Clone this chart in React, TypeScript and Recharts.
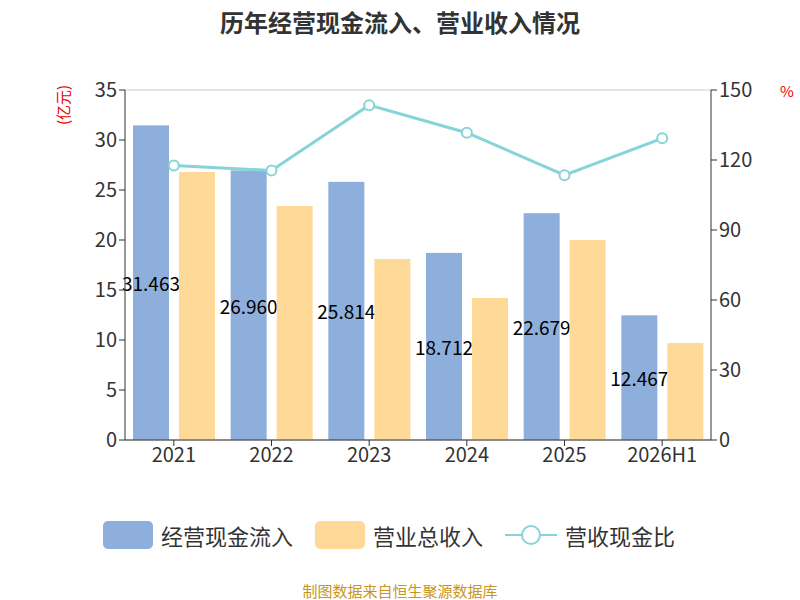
import React from "react";
import { ComposedChart, Bar, Line, XAxis, YAxis, CartesianGrid } from "recharts";

const years = ["2021", "2022", "2023", "2024", "2025", "2026H1"];
const cashIn = [31.463, 26.96, 25.814, 18.712, 22.679, 12.467];
const revenue = [26.8, 23.4, 18.1, 14.2, 20.0, 9.7];
const ratio = [117.6, 115.5, 143.5, 131.7, 113.5, 129.3];
const leftTicks = [0, 5, 10, 15, 20, 25, 30, 35];
const rightTicks = [0, 30, 60, 90, 120, 150];

const data = years.map((y, i) => ({ year: y, cashIn: cashIn[i], revenue: revenue[i], ratio: ratio[i] }));
const tick = { fontSize: 20, fill: "#333", fontFamily: "Noto Sans CJK SC" };

const BlueShape = (p: any) => (
  <g>
    <rect x={p.x} y={p.y} width={p.width} height={p.height} fill="#8eaedb" />
    <text x={p.x + p.width / 2} y={p.y + p.height / 2} textAnchor="middle" dominantBaseline="central" fontSize={19} fill="#000" fontFamily="Noto Sans CJK SC">
      {Number(p.value).toFixed(3)}
    </text>
  </g>
);

const LegendItem = ({ kind, color, label }: any) => (
  <div style={{ display: "flex", alignItems: "center", marginRight: 22 }}>
    {kind === "rect" ? (
      <div style={{ width: 50, height: 28, borderRadius: 5, background: color, marginRight: 8 }} />
    ) : (
      <svg width={52} height={28} style={{ marginRight: 8 }}>
        <line x1={0} y1={14} x2={52} y2={14} stroke={color} strokeWidth={2} />
        <circle cx={26} cy={14} r={9} fill="#fff" stroke={color} strokeWidth={2} />
      </svg>
    )}
    <span style={{ fontSize: 22, color: "#333" }}>{label}</span>
  </div>
);

export default function App() {
  return (
    <div style={{ position: "absolute", left: 0, top: 0, width: 800, height: 600, background: "#fff", fontFamily: "Noto Sans CJK SC" }}>
      <div style={{ position: "absolute", top: 4, width: 800, textAlign: "center", fontSize: 24, fontWeight: "bold", color: "#333" }}>历年经营现金流入、营业收入情况</div>
      <div style={{ position: "absolute", left: 52, top: 125, fontSize: 15, color: "#e00", transform: "rotate(-90deg)", transformOrigin: "left top" }}>(亿元)</div>
      <div style={{ position: "absolute", left: 780, top: 80, fontSize: 15, color: "#e00" }}>%</div>
      <ComposedChart width={800} height={600} data={data} margin={{ top: 90, left: 65, right: 29, bottom: 120 }} barGap={10} barCategoryGap={8}>
        <CartesianGrid vertical={false} stroke="#ccc" />
        <XAxis dataKey="year" tick={tick} height={40} stroke="#333" tickLine={{ stroke: "#333" }} />
        <YAxis yAxisId="l" domain={[0, 35]} ticks={leftTicks} width={60} tick={tick} stroke="#333" interval={0} />
        <YAxis yAxisId="r" orientation="right" domain={[0, 150]} ticks={rightTicks} width={60} tick={tick} stroke="#333" interval={0} />
        <Bar yAxisId="l" dataKey="cashIn" fill="#8eaedb" shape={BlueShape} isAnimationActive={false} />
        <Bar yAxisId="l" dataKey="revenue" fill="#fed998" isAnimationActive={false} />
        <Line yAxisId="r" dataKey="ratio" stroke="#86d4d8" strokeWidth={3} dot={{ r: 5, fill: "#fff", stroke: "#86d4d8", strokeWidth: 2 }} isAnimationActive={false} />
      </ComposedChart>
      <div style={{ position: "absolute", top: 519, width: 800, display: "flex", justifyContent: "center" }}>
        <LegendItem kind="rect" color="#8eaedb" label="经营现金流入" />
        <LegendItem kind="rect" color="#fed998" label="营业总收入" />
        <LegendItem kind="line" color="#86d4d8" label="营收现金比" />
      </div>
      <div style={{ position: "absolute", top: 580, width: 800, textAlign: "center", fontSize: 15, color: "#c8961e" }}>制图数据来自恒生聚源数据库</div>
    </div>
  );
}
